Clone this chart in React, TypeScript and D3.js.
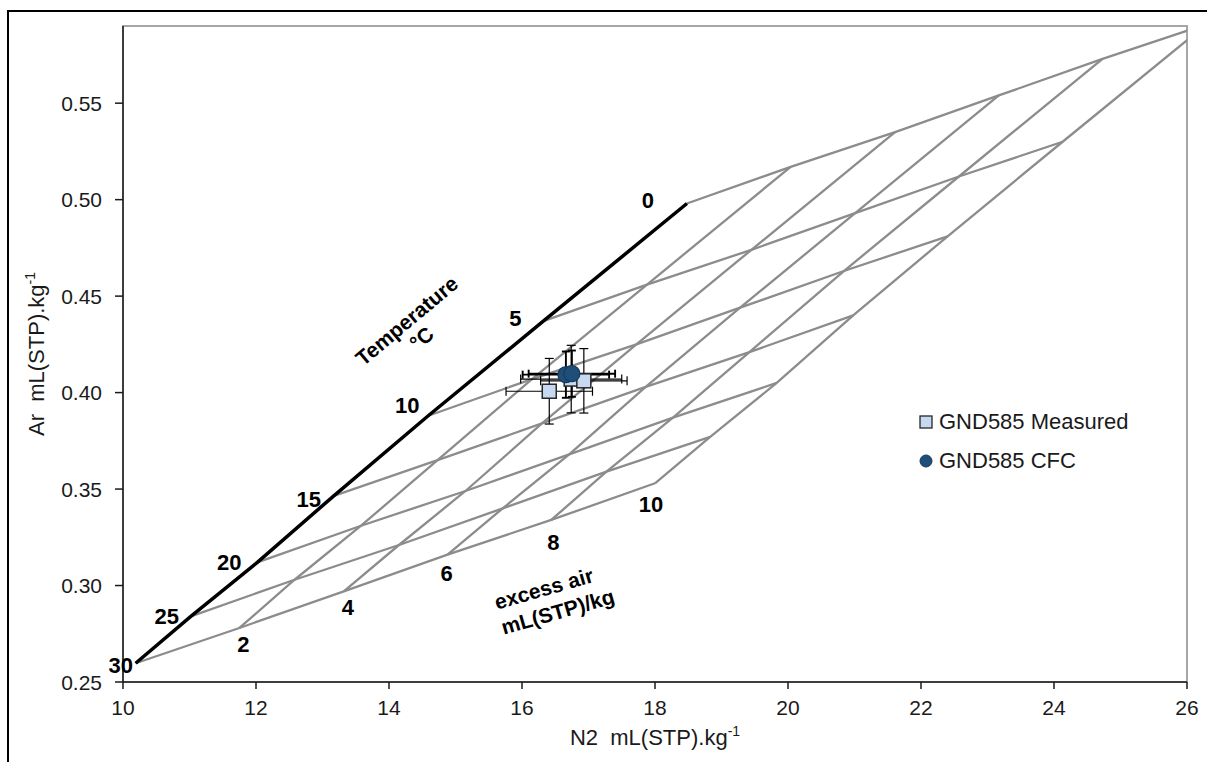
import React, { useEffect, useRef } from 'react'
import * as d3 from 'd3'

// temperature (°C) rows and excess air (mL(STP)/kg) columns of the equilibration grid
const temperatures = [0, 5, 10, 15, 20, 25, 30]
const excessAir = [0, 2, 4, 6, 8, 10]

// N2 at every grid node, one row per temperature, one column per excess air step
const gridN2 = [
    [18.48, 20.04, 21.61, 23.17, 24.73, 26.30],
    [16.32, 17.88, 19.45, 21.01, 22.57, 24.13],
    [14.59, 16.15, 17.72, 19.28, 20.84, 22.40],
    [13.17, 14.73, 16.30, 17.86, 19.42, 20.98],
    [12.02, 13.58, 15.15, 16.71, 18.27, 19.83],
    [11.02, 12.58, 14.15, 15.71, 17.27, 18.83],
    [10.19, 11.75, 13.32, 14.88, 16.44, 18.00],
]
// Ar at the same nodes
const gridAr = [
    [0.498, 0.517, 0.535, 0.554, 0.573, 0.591],
    [0.437, 0.456, 0.474, 0.493, 0.512, 0.530],
    [0.388, 0.407, 0.425, 0.444, 0.463, 0.481],
    [0.3465, 0.365, 0.384, 0.403, 0.421, 0.440],
    [0.312, 0.331, 0.349, 0.368, 0.387, 0.405],
    [0.284, 0.303, 0.321, 0.340, 0.359, 0.377],
    [0.2597, 0.278, 0.297, 0.316, 0.334, 0.353],
]

// GND585 measured samples
const measuredN2 = [16.41, 16.74, 16.93]
const measuredAr = [0.4007, 0.4070, 0.4061]
const measuredN2Err = [0.65, 0.76, 0.65]
const measuredArErr = [0.017, 0.0175, 0.0167]

// GND585 CFC samples
const cfcN2 = [16.66, 16.75]
const cfcAr = [0.4093, 0.4098]
const cfcN2Err = [0.65, 0.65]
const cfcArErr = [0.012, 0.012]

const xTicks = [10, 12, 14, 16, 18, 20, 22, 24, 26]
const yTicks = [0.25, 0.30, 0.35, 0.40, 0.45, 0.50, 0.55]
const legendLabels = ['GND585 Measured', 'GND585 CFC']

// label nudges in pixels (layout only)
const tempNudge = [[-39, -4], [-28, -3], [-21, -11], [-25, 3], [-28, 0], [-24, 0], [-15, 2]]
const eaNudge = [[4, 16], [4, 16], [-1, 18], [2, 22], [-4, 21]]

export default function App() {
    const ref = useRef<SVGSVGElement>(null)

    let width = 1207, height = 762
    let left = 123, right = 1187, top = 26, bottom = 682
    let font = '"Liberation Sans", Arial, sans-serif'
    let gridColor = '#8c8c8c'
    let squareFill = '#c6d9f0'
    let circleFill = '#1f4e79'

    useEffect(() => {
        const svg = d3.select(ref.current)
        svg.selectAll('*').remove()

        const x = d3.scaleLinear().domain([10, 26]).range([left, right])
        const y = d3.scaleLinear().domain([0.25, 0.59]).range([bottom, top])

        // outer chart frame, only its top and left edges are inside the picture
        svg.append('rect')
            .attr('x', 8).attr('y', 11)
            .attr('width', 1400).attr('height', 900)
            .attr('fill', 'white')
            .attr('stroke', 'black')
            .attr('stroke-width', 2)

        svg.append('clipPath').attr('id', 'plotClip')
            .append('rect')
            .attr('x', left).attr('y', top)
            .attr('width', right - left).attr('height', bottom - top)

        // plot area border
        svg.append('rect')
            .attr('x', left).attr('y', top)
            .attr('width', right - left).attr('height', bottom - top)
            .attr('fill', 'none')
            .attr('stroke', '#a6a6a6')
            .attr('stroke-width', 2)

        const plot = svg.append('g').attr('clip-path', 'url(#plotClip)')
        const line = d3.line<[number, number]>().x(d => x(d[0])).y(d => y(d[1]))

        // iso-temperature lines
        temperatures.forEach((t, i) => {
            const pts: [number, number][] = excessAir.map((e, j) => [gridN2[i][j], gridAr[i][j]])
            plot.append('path')
                .attr('d', line(pts))
                .attr('fill', 'none')
                .attr('stroke', gridColor)
                .attr('stroke-width', 2.3)
        })
        // iso-excess-air lines (zero excess air is the black equilibrium line)
        excessAir.forEach((e, j) => {
            if (j == 0) return
            const pts: [number, number][] = temperatures.map((t, i) => [gridN2[i][j], gridAr[i][j]])
            plot.append('path')
                .attr('d', line(pts))
                .attr('fill', 'none')
                .attr('stroke', gridColor)
                .attr('stroke-width', 2.3)
        })
        const eqPts: [number, number][] = temperatures.map((t, i) => [gridN2[i][0], gridAr[i][0]])
        plot.append('path')
            .attr('d', line(eqPts))
            .attr('fill', 'none')
            .attr('stroke', 'black')
            .attr('stroke-width', 3.5)

        // axes
        svg.append('line')
            .attr('x1', left).attr('x2', left).attr('y1', top).attr('y2', bottom)
            .attr('stroke', '#1a1a1a').attr('stroke-width', 1.5)
        svg.append('line')
            .attr('x1', left).attr('x2', right).attr('y1', bottom).attr('y2', bottom)
            .attr('stroke', '#1a1a1a').attr('stroke-width', 1.5)

        svg.selectAll('.xtick').data(xTicks).enter().append('line')
            .attr('x1', d => x(d)).attr('x2', d => x(d))
            .attr('y1', bottom).attr('y2', bottom + 7)
            .attr('stroke', '#1a1a1a').attr('stroke-width', 1.5)
        svg.selectAll('.xlabel').data(xTicks).enter().append('text')
            .attr('x', d => x(d)).attr('y', 715)
            .attr('text-anchor', 'middle')
            .style('font-family', font).style('font-size', '21px').attr('fill', '#1a1a1a')
            .text(d => d)

        svg.selectAll('.ytick').data(yTicks).enter().append('line')
            .attr('x1', left - 8).attr('x2', left)
            .attr('y1', d => y(d)).attr('y2', d => y(d))
            .attr('stroke', '#1a1a1a').attr('stroke-width', 1.5)
        svg.selectAll('.ylabel').data(yTicks).enter().append('text')
            .attr('x', 102).attr('y', d => y(d) + 7.5)
            .attr('text-anchor', 'end')
            .style('font-family', font).style('font-size', '21px').attr('fill', '#1a1a1a')
            .text(d => d3.format('.2f')(d))

        // axis titles
        const xt = svg.append('text')
            .attr('x', (left + right) / 2).attr('y', 745)
            .attr('text-anchor', 'middle')
            .style('font-family', font).style('font-size', '22px').style('white-space', 'pre')
            .attr('fill', '#1a1a1a')
        xt.append('tspan').text('N2  mL(STP).kg')
        xt.append('tspan').attr('dy', -9).style('font-size', '14px').text('-1')

        const yt = svg.append('text')
            .attr('transform', 'translate(' + 44 + ',' + (top + bottom) / 2 + ') rotate(-90)')
            .attr('text-anchor', 'middle')
            .style('font-family', font).style('font-size', '22px').style('white-space', 'pre')
            .attr('fill', '#1a1a1a')
        yt.append('tspan').text('Ar  mL(STP).kg')
        yt.append('tspan').attr('dy', -9).style('font-size', '14px').text('-1')

        // temperature labels along the equilibrium line
        svg.selectAll('.tlabel').data(temperatures).enter().append('text')
            .attr('x', (d, i) => x(gridN2[i][0]) + tempNudge[i][0])
            .attr('y', (d, i) => y(gridAr[i][0]) + tempNudge[i][1] + 8)
            .attr('text-anchor', 'middle')
            .style('font-family', font).style('font-size', '22px').style('font-weight', 'bold')
            .text(d => d)

        // excess air labels under the 30 °C line
        const last = temperatures.length - 1
        svg.selectAll('.ealabel').data(excessAir.slice(1)).enter().append('text')
            .attr('x', (d, i) => x(gridN2[last][i + 1]) + eaNudge[i][0])
            .attr('y', (d, i) => y(gridAr[last][i + 1]) + eaNudge[i][1] + 8)
            .attr('text-anchor', 'middle')
            .style('font-family', font).style('font-size', '22px').style('font-weight', 'bold')
            .text(d => d)

        const tempTitle = svg.append('g')
            .attr('transform', 'translate(407,321) rotate(-40)')
            .style('font-family', font).style('font-size', '21px').style('font-weight', 'bold')
        tempTitle.append('text').attr('text-anchor', 'middle').attr('y', 7).text('Temperature')
        tempTitle.append('text').attr('text-anchor', 'middle').attr('y', 30).text('°C')

        const eaTitle = svg.append('g')
            .attr('transform', 'translate(544,589) rotate(-16)')
            .style('font-family', font).style('font-size', '21px').style('font-weight', 'bold')
        eaTitle.append('text').attr('text-anchor', 'middle').attr('y', 7).text('excess air')
        eaTitle.append('text').attr('text-anchor', 'middle').attr('x', 7).attr('y', 33).text('mL(STP)/kg')

        // error bars
        function errorBars(n2: number[], ar: number[], n2Err: number[], arErr: number[], w: number, cap: number) {
            const g = svg.append('g').attr('stroke', 'black').attr('stroke-width', w)
            n2.forEach((v, i) => {
                const cx = x(v), cy = y(ar[i])
                const x0 = x(v - n2Err[i]), x1 = x(v + n2Err[i])
                const y0 = y(ar[i] - arErr[i]), y1 = y(ar[i] + arErr[i])
                g.append('line').attr('x1', x0).attr('x2', x1).attr('y1', cy).attr('y2', cy)
                g.append('line').attr('x1', cx).attr('x2', cx).attr('y1', y0).attr('y2', y1)
                g.append('line').attr('x1', x0).attr('x2', x0).attr('y1', cy - cap).attr('y2', cy + cap)
                g.append('line').attr('x1', x1).attr('x2', x1).attr('y1', cy - cap).attr('y2', cy + cap)
                g.append('line').attr('x1', cx - cap).attr('x2', cx + cap).attr('y1', y0).attr('y2', y0)
                g.append('line').attr('x1', cx - cap).attr('x2', cx + cap).attr('y1', y1).attr('y2', y1)
            })
        }
        errorBars(measuredN2, measuredAr, measuredN2Err, measuredArErr, 1.2, 4.5)
        errorBars(cfcN2, cfcAr, cfcN2Err, cfcArErr, 1.9, 4)

        svg.selectAll('.sq').data(measuredN2).enter().append('rect')
            .attr('x', (d, i) => x(d) - 7).attr('y', (d, i) => y(measuredAr[i]) - 7)
            .attr('width', 14).attr('height', 14)
            .attr('fill', squareFill).attr('stroke', '#262626').attr('stroke-width', 1.5)

        svg.selectAll('.dot').data(cfcN2).enter().append('circle')
            .attr('cx', d => x(d)).attr('cy', (d, i) => y(cfcAr[i]))
            .attr('r', 8)
            .attr('fill', circleFill).attr('stroke', '#163a5c').attr('stroke-width', 1.2)

        // legend
        const legend = svg.append('g').style('font-family', font).style('font-size', '22px')
        legend.append('rect')
            .attr('x', 920).attr('y', 416).attr('width', 12).attr('height', 12)
            .attr('fill', squareFill).attr('stroke', '#262626').attr('stroke-width', 1.3)
        legend.append('circle')
            .attr('cx', 926).attr('cy', 461).attr('r', 6)
            .attr('fill', circleFill).attr('stroke', '#163a5c')
        legend.selectAll('.ltext').data(legendLabels).enter().append('text')
            .attr('x', 939).attr('y', (d, i) => 429 + i * 39)
            .attr('fill', '#1a1a1a')
            .text(d => d)
    }, [])

    return (
        <svg ref={ref} width={width} height={height}
            style={{ position: 'absolute', left: 0, top: 0, background: 'white' }} />
    )
}
